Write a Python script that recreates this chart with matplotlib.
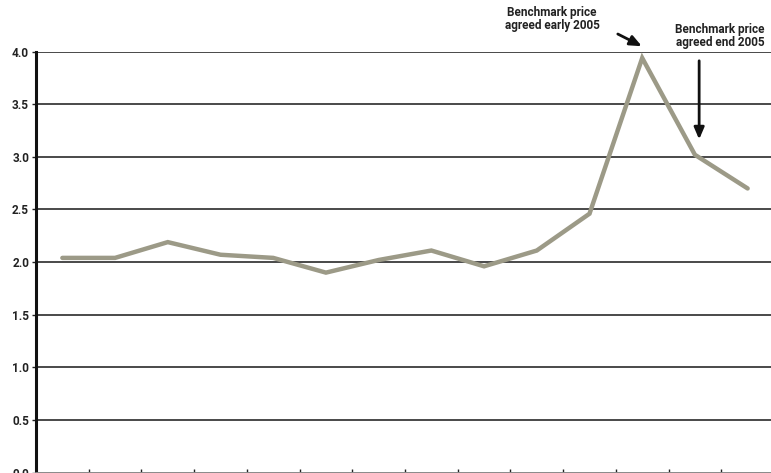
import numpy as np
import matplotlib
matplotlib.use("Agg")
import matplotlib.pyplot as plt

# Price index, one value per period
prices = [2.04, 2.04, 2.19, 2.07, 2.04, 1.90, 2.02, 2.11, 1.96, 2.11, 2.46, 3.94, 3.02, 2.70]
y_ticks = [0.0, 0.5, 1.0, 1.5, 2.0, 2.5, 3.0, 3.5, 4.0]
note_early = "Benchmark price\nagreed early 2005"
note_end = "Benchmark price\nagreed end 2005"

plt.rcParams['font.family'] = ['Roboto', 'DejaVu Sans']

fig = plt.figure(figsize=(7.71, 4.73), dpi=100)
ax = fig.add_axes([36 / 771, 0.5 / 473, 738 / 771, 420.8 / 473])

x = np.arange(len(prices)) + 0.5
ax.plot(x, prices, color='#9c9a87', lw=3.2, solid_joinstyle='miter',
        solid_capstyle='round', zorder=3)

ax.set_xlim(0, len(prices))
ax.set_ylim(0, 4)
ax.set_yticks(y_ticks)
ax.set_yticklabels([f"{v:.1f}" for v in y_ticks], fontsize=8.5, fontweight='bold',
                   color='#222222')
ax.set_xticks(np.arange(1, len(prices)))
ax.set_xticklabels([])
ax.tick_params(axis='y', direction='out', length=3, width=1, color='#222222', pad=2)
ax.tick_params(axis='x', direction='in', length=3, width=1, color='#222222')

ax.yaxis.grid(True, color='#2a2a2a', lw=1.2)
ax.set_axisbelow(True)
for side in ('top', 'right'):
    ax.spines[side].set_visible(False)
ax.spines['left'].set_linewidth(2.2)
ax.spines['left'].set_color('#111111')
ax.spines['bottom'].set_color('#999999')
ax.spines['bottom'].set_linewidth(1.2)

# Annotations for the two benchmark agreements
ax.text(9.79, 4.31, note_early, ha='center', va='center', fontsize=8.5,
        fontweight='bold', color='#222222', linespacing=1.05, clip_on=False)
ax.annotate('', xy=(11.54, 4.04), xytext=(10.99, 4.18),
            arrowprops=dict(arrowstyle='-|>,head_length=0.7,head_width=0.3',
                            color='#111111', lw=2),
            annotation_clip=False)

ax.text(12.98, 4.15, note_end, ha='center', va='center', fontsize=8.5,
        fontweight='bold', color='#222222', linespacing=1.05, clip_on=False)
ax.annotate('', xy=(12.58, 3.14), xytext=(12.58, 3.94),
            arrowprops=dict(arrowstyle='-|>,head_length=0.7,head_width=0.3',
                            color='#111111', lw=2),
            annotation_clip=False)

fig.savefig('out.png', dpi=100)
